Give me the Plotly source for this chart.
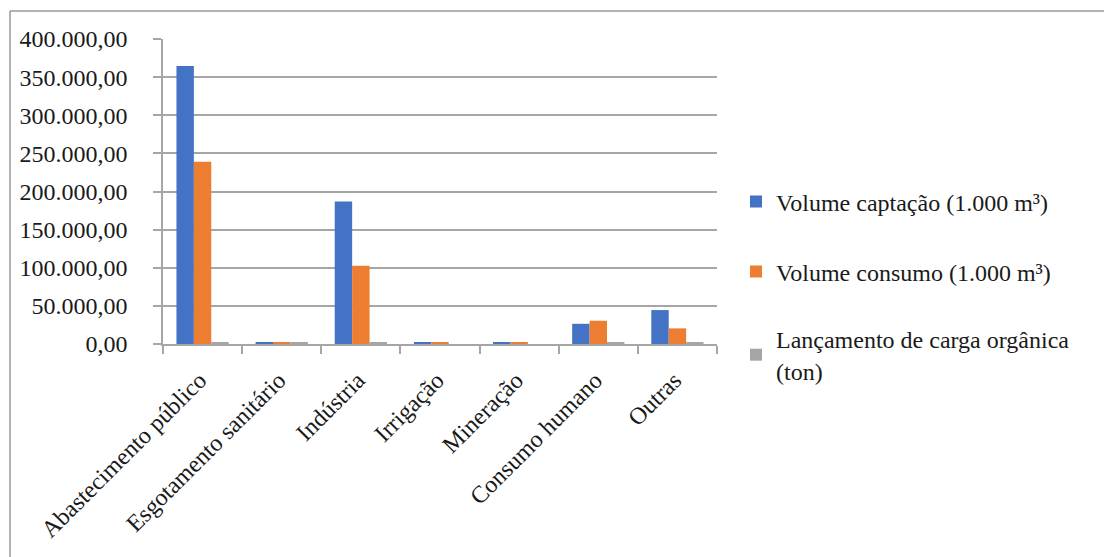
import plotly.graph_objects as go

# Usos da água por setor
categorias = ["Abastecimento público", "Esgotamento sanitário", "Indústria",
              "Irrigação", "Mineração", "Consumo humano", "Outras"]
volume_captacao = [364500, 2000, 187000, 2000, 2000, 26500, 44500]
volume_consumo = [239000, 2000, 102500, 2000, 2000, 30500, 20500]
carga_organica = [1800, 1800, 1800, 0, 0, 1800, 1800]

nomes = ["Volume captação (1.000 m³)", "Volume consumo (1.000 m³)",
         "Lançamento de carga orgânica<br>(ton)"]
cores = ["#4472c4", "#ed7d31", "#a5a5a5"]
valores = [volume_captacao, volume_consumo, carga_organica]

FONTE = "Liberation Serif"
TEXTO = "#1a1a1a"
CINZA = "#a6a6a6"
TAM = 24

# geometria da área de plotagem (pixels)
W, H = 1104, 557
L, R, T, B = 163, 717, 39, 344
pw, ph = R - L, B - T


def px_x(x):
    return (x - L) / pw


def px_y(y):
    return (B - y) / ph


fig = go.Figure()
legend_ids = ["legend", "legend2", "legend3"]
for nome, cor, vals, lg in zip(nomes, cores, valores, legend_ids):
    fig.add_trace(go.Bar(
        x=categorias, y=vals, name=nome, marker_color=cor,
        marker_line_width=0, legend=lg,
    ))

legend_y = [202, 272, 355]
legend_cfg = {}
for lg, yy in zip(legend_ids, legend_y):
    legend_cfg[lg] = dict(
        x=px_x(736), y=px_y(yy), xanchor="left", yanchor="middle",
        font=dict(family=FONTE, size=TAM, color=TEXTO),
        bgcolor="rgba(0,0,0,0)", itemwidth=30,
    )

fig.update_layout(
    width=W, height=H,
    margin=dict(l=L, r=W - R, t=T, b=H - B),
    paper_bgcolor="white", plot_bgcolor="white",
    barmode="group", bargap=0.34, bargroupgap=0,
    separators=",.",
    showlegend=True,
    **legend_cfg,
    xaxis=dict(
        type="category", tickangle=-45, tickson="boundaries",
        ticks="outside", ticklen=8, tickcolor=CINZA, tickwidth=1.5,
        showline=True, linecolor=CINZA, linewidth=1.5,
        showgrid=False, automargin=False, ticklabelstandoff=11,
        ticklabelshift=-3,
        tickfont=dict(family=FONTE, size=TAM, color=TEXTO),
    ),
    yaxis=dict(
        range=[0, 400000], dtick=50000, tickformat=",.2f",
        ticks="outside", ticklen=8, tickcolor=CINZA, tickwidth=1.5,
        showline=True, linecolor=CINZA, linewidth=1.5,
        showgrid=True, gridcolor=CINZA, gridwidth=1.5,
        zeroline=False, automargin=False, ticklabelstandoff=21,
        tickfont=dict(family=FONTE, size=TAM, color=TEXTO),
    ),
    shapes=[
        dict(type="line", xref="paper", yref="paper",
             x0=px_x(10), x1=px_x(W), y0=px_y(11), y1=px_y(11),
             line=dict(color="#9a9a9a", width=1.5)),
        dict(type="line", xref="paper", yref="paper",
             x0=px_x(10), x1=px_x(10), y0=px_y(11), y1=px_y(H),
             line=dict(color="#9a9a9a", width=1.5)),
    ],
)

fig.write_html("out.html")
